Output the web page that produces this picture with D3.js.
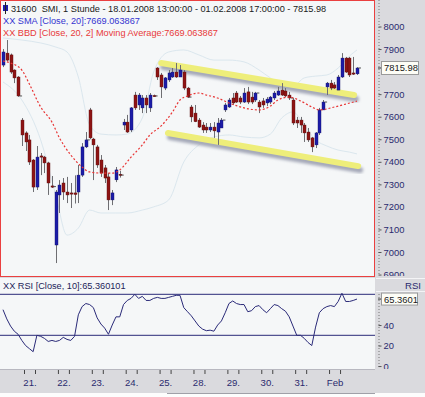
<!DOCTYPE html>
<html>
<head>
<meta charset="utf-8">
<script src="https://cdn.jsdelivr.net/npm/d3@7"></script>
<style>
  body { margin: 0; background: #fff; }
  svg text { font-family: "Liberation Sans", Arial, sans-serif; white-space: pre; }
</style>
</head>
<body>
<script>

// SMI hourly candles, 18.01.2008 13:00 - 01.02.2008 17:00
var opens  = [7829,7882,7874,7807,7776, 7585,7528,7497,7408,7288,7426,7421,7395,7293,
              7031,7253,7306,7266,7262,7262,7266,7341,7466, 7630,7501,7466,7408,7373,7333,7231,7320,7345,
              7563,7576,7541,7696,7652,7639,7683,7639,7694, 7816,7785,7727,7763,7776,7798,7776,7798,7727,
              7643,7616,7585,7563,7554,7541,7554,7532,7550, 7630,7643,7683,7705,7683,7665,7710,7687,7674,
              7665,7670,7661,7665,7683,7696,7718,7714,7696, 7674,7585,7585,7563,7532,7506,7475,7528,7630,
              7732,7749,7741,7718,7776,7860,7860,7794,7790];
var highs  = [7900,7940,7880,7810,7780, 7594,7535,7519,7412,7470,7439,7426,7400,7337,
              7275,7319,7328,7333,7306,7340,7386,7483,7532, 7639,7506,7475,7430,7386,7350,7275,7377,7360,
              7590,7608,7643,7710,7705,7696,7696,7705,7698, 7820,7794,7776,7807,7816,7838,7829,7807,7732,
              7652,7652,7594,7576,7572,7572,7576,7594,7594, 7661,7683,7705,7714,7692,7727,7732,7710,7710,
              7674,7683,7687,7692,7714,7732,7749,7727,7710, 7683,7599,7599,7572,7550,7510,7532,7639,7674,
              7754,7763,7754,7785,7882,7865,7865,7865,7820];
var lows   = [7820,7845,7790,7749,7688, 7470,7448,7386,7266,7275,7341,7350,7253,7284,
              6951,7173,7231,7217,7195,7215,7217,7333,7461, 7500,7319,7373,7333,7306,7186,7208,7310,7330,
              7541,7528,7532,7630,7630,7616,7616,7621,7688, 7763,7683,7718,7754,7772,7772,7776,7718,7683,
              7576,7576,7550,7528,7528,7532,7506,7475,7550, 7621,7639,7652,7661,7656,7661,7656,7656,7665,
              7616,7639,7647,7656,7674,7692,7692,7687,7674, 7563,7550,7528,7488,7488,7443,7461,7519,7630,
              7696,7718,7723,7718,7772,7794,7776,7785,7785];
var closes = [7887,7851,7798,7772,7692, 7519,7488,7399,7288,7421,7424,7395,7306,7290,
              7266,7297,7266,7253,7257,7255,7341,7466,7497, 7506,7475,7386,7350,7328,7231,7262,7364,7341,
              7576,7532,7639,7639,7696,7683,7652,7696,7692, 7776,7732,7772,7794,7798,7776,7807,7727,7687,
              7599,7578,7554,7541,7541,7554,7537,7572,7585, 7652,7674,7661,7665,7665,7705,7665,7665,7705,
              7643,7652,7678,7687,7705,7714,7696,7692,7683, 7572,7572,7563,7528,7497,7466,7528,7630,7665,
              7749,7727,7727,7776,7860,7798,7785,7790,7815.98];

// RSI(10) per bar
var rsi = [55,46,39,34,31, 25,20,17,14,30,29,27,24,25,
           24,25,28,26,25,29,50,58,61, 60,57,47,41,37,31,40,48,48,
           60,64,66,70,66,68,64,64,66, 67,66,66,67,68,69,69,57,53,
           49,44,39,36,34.5,35,34,40,44, 52,61,63.5,61,60,60,53,54,58,
           59,55,52,56,60,59,56,53.5,48, 39,30,30,27,23,20,38,52,56,
           58,59,58,63,71,63,63,64,65.360101];

// SMA(20): bar index / value
var smaIdx = [0,2,5,7,10,13,15,18,21,23,26,29,31,34,37,39,42,45,47,49,52,54,57,60,64,68,71,73,76,79,82,84,88,91,94];
var smaVal = [7847,7838,7807,7745,7643,7576,7506,7430,7377,7355,7350,7350,7364,7421,7475,7519,7559,7621,7674,7692,
              7705,7696,7683,7661,7639,7630,7647,7674,7687,7670,7643,7630,7643,7656,7669];

// Bollinger bands (20, 2)
var bandIdx   = [0,5,10,14,17,20,23,26,30,33,37,40,44,48,52,56,60,64,68,71,74,77,80,83,86,89,92,94];
var bandUpper = [7949,7940,7927,7909,7887,7776,7563,7523,7519,7523,7594,7798,7887,7896,7874,7851,7851,7843,
                 7807,7772,7745,7736,7772,7780,7785,7816,7869,7896];
var bandLower = [7754,7674,7497,7253,7075,7106,7186,7173,7173,7173,7186,7200,7231,7399,7475,7510,7519,7510,
                 7506,7523,7594,7621,7563,7497,7470,7452,7443,7435];

// hand drawn trend channel (bar index, price)
var channelUpper = [[42, 7838], [93.2, 7696]];
var channelLower = [[43.8, 7528], [94.3, 7381]];

// 7800 and RSI 60 sit under the value boxes in the original
var priceTicks = [6900,7000,7100,7200,7300,7400,7500,7600,7700,7900,8000];
var rsiTicks = [0,20,40,80];
var rsiLevels = [70,30];
var dayLabels = ["21.","22.","23.","24.","25.","28.","29.","30.","31.","Feb"];
var dayStart  = [5,14,23,32,41,50,59,68,77,86];

var W = 425, H = 397;
var navy = "#2a2a6e";

var svg = d3.select("body").append("svg").attr("width", W).attr("height", H);

var x = d3.scaleLinear().domain([0, 94]).range([3, 357]);
var y = d3.scaleLinear().domain([7000, 8000]).range([252, 26.5]);
var yr = d3.scaleLinear().domain([30, 70]).range([335.3, 294.3]);

// backgrounds
svg.append("rect").attr("width", W).attr("height", H).attr("fill", "#dadade");
svg.append("rect").attr("x", 0).attr("y", 0).attr("width", 375).attr("height", 277).attr("fill", "#f5f7f8");
svg.append("rect").attr("x", 0).attr("y", 278).attr("width", 375).attr("height", 91).attr("fill", "#f5f7f8");
svg.append("rect").attr("x", 0).attr("y", 393).attr("width", W).attr("height", 4).attr("fill", "#fdfdfd");
svg.append("line").attr("x1", 167).attr("x2", 375).attr("y1", 393.5).attr("y2", 393.5).attr("stroke", "#a0a0a8");
svg.append("line").attr("x1", 0).attr("x2", 375).attr("y1", 369.5).attr("y2", 369.5).attr("stroke", "#b8b8c0");

var defs = svg.append("defs");
defs.append("clipPath").attr("id", "clipMain").append("rect")
  .attr("x", 1).attr("y", 1).attr("width", 373).attr("height", 275);
defs.append("clipPath").attr("id", "clipMainAxis").append("rect")
  .attr("x", 376).attr("y", 0).attr("width", 49).attr("height", 276);
defs.append("clipPath").attr("id", "clipRsiAxis").append("rect")
  .attr("x", 376).attr("y", 291).attr("width", 49).attr("height", 78);
defs.append("filter").attr("id", "blur").append("feGaussianBlur").attr("stdDeviation", 1.5);

var main = svg.append("g").attr("clip-path", "url(#clipMain)");

// bollinger bands
var bandLine = function(vals) {
  return d3.line().curve(d3.curveMonotoneX)
    .x(function(d, i) { return x(bandIdx[i]); })
    .y(function(d) { return y(d); })(vals);
};
[bandUpper, bandLower].forEach(function(b) {
  main.append("path").attr("d", bandLine(b)).attr("fill", "none")
    .attr("stroke", "#dbe7ee").attr("stroke-width", 1);
});

// trend channel
[channelUpper, channelLower].forEach(function(c) {
  main.append("line")
    .attr("x1", x(c[0][0]) + 2).attr("y1", y(c[0][1]) + 4)
    .attr("x2", x(c[1][0]) + 2).attr("y2", y(c[1][1]) + 4)
    .attr("stroke", "#a4a8b8").attr("stroke-width", 6).attr("stroke-linecap", "round")
    .attr("filter", "url(#blur)");
  main.append("line")
    .attr("x1", x(c[0][0])).attr("y1", y(c[0][1]))
    .attr("x2", x(c[1][0])).attr("y2", y(c[1][1]))
    .attr("stroke", "#eeee7a").attr("stroke-width", 6).attr("stroke-linecap", "round");
});

// candles
var idx = d3.range(opens.length);
main.selectAll(".wick").data(idx).enter().append("line")
  .attr("x1", function(i) { return Math.round(x(i)) + 0.5; })
  .attr("x2", function(i) { return Math.round(x(i)) + 0.5; })
  .attr("y1", function(i) { return y(highs[i]); })
  .attr("y2", function(i) { return y(lows[i]); })
  .attr("stroke", "#6e6e72").attr("stroke-width", 1);

main.selectAll(".body").data(idx).enter().append("rect")
  .attr("x", function(i) { return Math.round(x(i)) - 1; })
  .attr("width", 3)
  .attr("y", function(i) { return y(Math.max(opens[i], closes[i])); })
  .attr("height", function(i) { return Math.max(1.2, Math.abs(y(opens[i]) - y(closes[i]))); })
  .attr("fill", function(i) { return closes[i] >= opens[i] ? "#1c1ca8" : "#8e1414"; })
  .attr("stroke", function(i) { return closes[i] >= opens[i] ? "#10106a" : "#5a0c0c"; })
  .attr("stroke-width", 0.4);

// close dash at the end of each day
dayStart.concat([95]).forEach(function(s) {
  var i = s - 1;
  main.append("line")
    .attr("x1", x(i) + 1.5).attr("x2", x(i) + 4)
    .attr("y1", y(closes[i])).attr("y2", y(closes[i]))
    .attr("stroke", "#555").attr("stroke-width", 1);
});

// SMA
main.append("path")
  .attr("d", d3.line().curve(d3.curveMonotoneX)
    .x(function(d, i) { return x(smaIdx[i]); })
    .y(function(d) { return y(d); })(smaVal))
  .attr("fill", "none").attr("stroke", "#e83434").attr("stroke-width", 1.2)
  .attr("stroke-dasharray", "2,2");

// main frame
svg.append("rect").attr("x", 0.5).attr("y", 0.5).attr("width", 374).attr("height", 276)
  .attr("fill", "none").attr("stroke", "#ea4040");

// titles
svg.append("rect").attr("x", 3).attr("y", 5).attr("width", 5).attr("height", 6).attr("fill", "#1c1ca8");
svg.append("line").attr("x1", 5.5).attr("x2", 5.5).attr("y1", 2).attr("y2", 14).attr("stroke", "#222");
svg.append("text").attr("x", 11).attr("y", 11.5).attr("fill", "#202020").style("font-size", "9.2px")
  .text("31600  SMI, 1 Stunde - 18.01.2008 13:00:00 - 01.02.2008 17:00:00 - 7815.98");
svg.append("text").attr("x", 3).attr("y", 24).attr("fill", "#3434d0").style("font-size", "9.2px")
  .text("XX SMA [Close, 20]:7669.063867");
svg.append("text").attr("x", 3).attr("y", 36).attr("fill", "#e83a3a").style("font-size", "9.2px")
  .text("XX BBD [Close, 20, 2] Moving Average:7669.063867");

// price axis
var gy = svg.append("g").attr("clip-path", "url(#clipMainAxis)")
  .append("g").attr("transform", "translate(378.5,0)")
  .call(d3.axisRight(y).tickValues(priceTicks).tickFormat(d3.format("d"))
    .tickSize(3).tickSizeOuter(0).tickPadding(2));
gy.select(".domain").attr("stroke", "#777").attr("stroke-dasharray", "1,2")
  .attr("d", "M0.5,0V276");
gy.selectAll(".tick line").attr("stroke", "#555");
gy.selectAll(".tick text").attr("fill", navy).style("font-size", "9.4px")
  .style("font-family", "'Liberation Sans', Arial, sans-serif");

// last price box
var lastY = y(closes[closes.length - 1]);
svg.append("line").attr("x1", 378).attr("x2", 381).attr("y1", lastY).attr("y2", lastY).attr("stroke", "#333");
svg.append("rect").attr("x", 381.5).attr("y", lastY - 6.5).attr("width", 37).attr("height", 13)
  .attr("fill", "#fdfdf6").attr("stroke", "#9a9a9a");
svg.append("text").attr("x", 384).attr("y", lastY + 3.5).attr("fill", "#202020").style("font-size", "9.4px")
  .text(d3.format(".2f")(closes[closes.length - 1]));

// RSI panel
var rsiG = svg.append("g");
rsiLevels.forEach(function(v) {
  rsiG.append("line").attr("x1", 0).attr("x2", 375).attr("y1", yr(v)).attr("y2", yr(v))
    .attr("stroke", "#2a2a78").attr("stroke-width", 1);
});
rsiG.append("path")
  .attr("d", d3.line().x(function(d, i) { return x(i); }).y(function(d) { return yr(d); })(rsi))
  .attr("fill", "none").attr("stroke", "#2a2a78").attr("stroke-width", 1);
svg.append("text").attr("x", 3).attr("y", 288.5).attr("fill", "#1e1e58").style("font-size", "9.2px")
  .text("XX RSI [Close, 10]:65.360101");

var gr = svg.append("g").attr("clip-path", "url(#clipRsiAxis)")
  .append("g").attr("transform", "translate(378.5,0)")
  .call(d3.axisRight(yr).tickValues(rsiTicks).tickFormat(d3.format("d"))
    .tickSize(3).tickSizeOuter(0).tickPadding(2));
gr.select(".domain").attr("stroke", "#777").attr("stroke-dasharray", "1,2").attr("d", "M0.5,291V369");
gr.selectAll(".tick line").attr("stroke", "#555");
gr.selectAll(".tick text").attr("fill", navy).style("font-size", "9.4px")
  .style("font-family", "'Liberation Sans', Arial, sans-serif");

svg.append("line").attr("x1", 376).attr("x2", 425).attr("y1", 278.5).attr("y2", 278.5).attr("stroke", "#f4f4f6");
svg.append("line").attr("x1", 376).attr("x2", 425).attr("y1", 291.5).attr("y2", 291.5).attr("stroke", "#f4f4f6");
svg.append("text").attr("x", 421).attr("y", 289).attr("text-anchor", "end").attr("fill", navy)
  .style("font-size", "9.6px").text("RSI");

var lastR = yr(rsi[rsi.length - 1]);
svg.append("line").attr("x1", 378).attr("x2", 381).attr("y1", lastR).attr("y2", lastR).attr("stroke", "#333");
svg.append("rect").attr("x", 381.5).attr("y", lastR - 6).attr("width", 36).attr("height", 12)
  .attr("fill", "#fdfdf6").attr("stroke", "#9a9a9a");
svg.append("text").attr("x", 384).attr("y", lastR + 3.5).attr("fill", "#202020").style("font-size", "9.4px")
  .text(d3.format(".4f")(rsi[rsi.length - 1]));

// time axis
var tickPos = [];
dayStart.forEach(function(s) { tickPos.push(s + 0.58, s + 3.5); });
var gx = svg.append("g").attr("transform", "translate(0,370)")
  .call(d3.axisBottom(x).tickValues(tickPos).tickSize(4).tickFormat(""));
gx.select(".domain").remove();
gx.selectAll(".tick line").attr("stroke", "#444");

var gl = svg.append("g").attr("transform", "translate(0,379.5)")
  .call(d3.axisBottom(x).tickValues(dayStart.map(function(s) { return s + 2.04; }))
    .tickSize(0).tickPadding(0).tickFormat(function(d, i) { return dayLabels[i]; }));
gl.select(".domain").remove();
gl.selectAll("text").attr("fill", navy).style("font-size", "9.6px")
  .style("font-family", "'Liberation Sans', Arial, sans-serif");

</script>
</body>
</html>
